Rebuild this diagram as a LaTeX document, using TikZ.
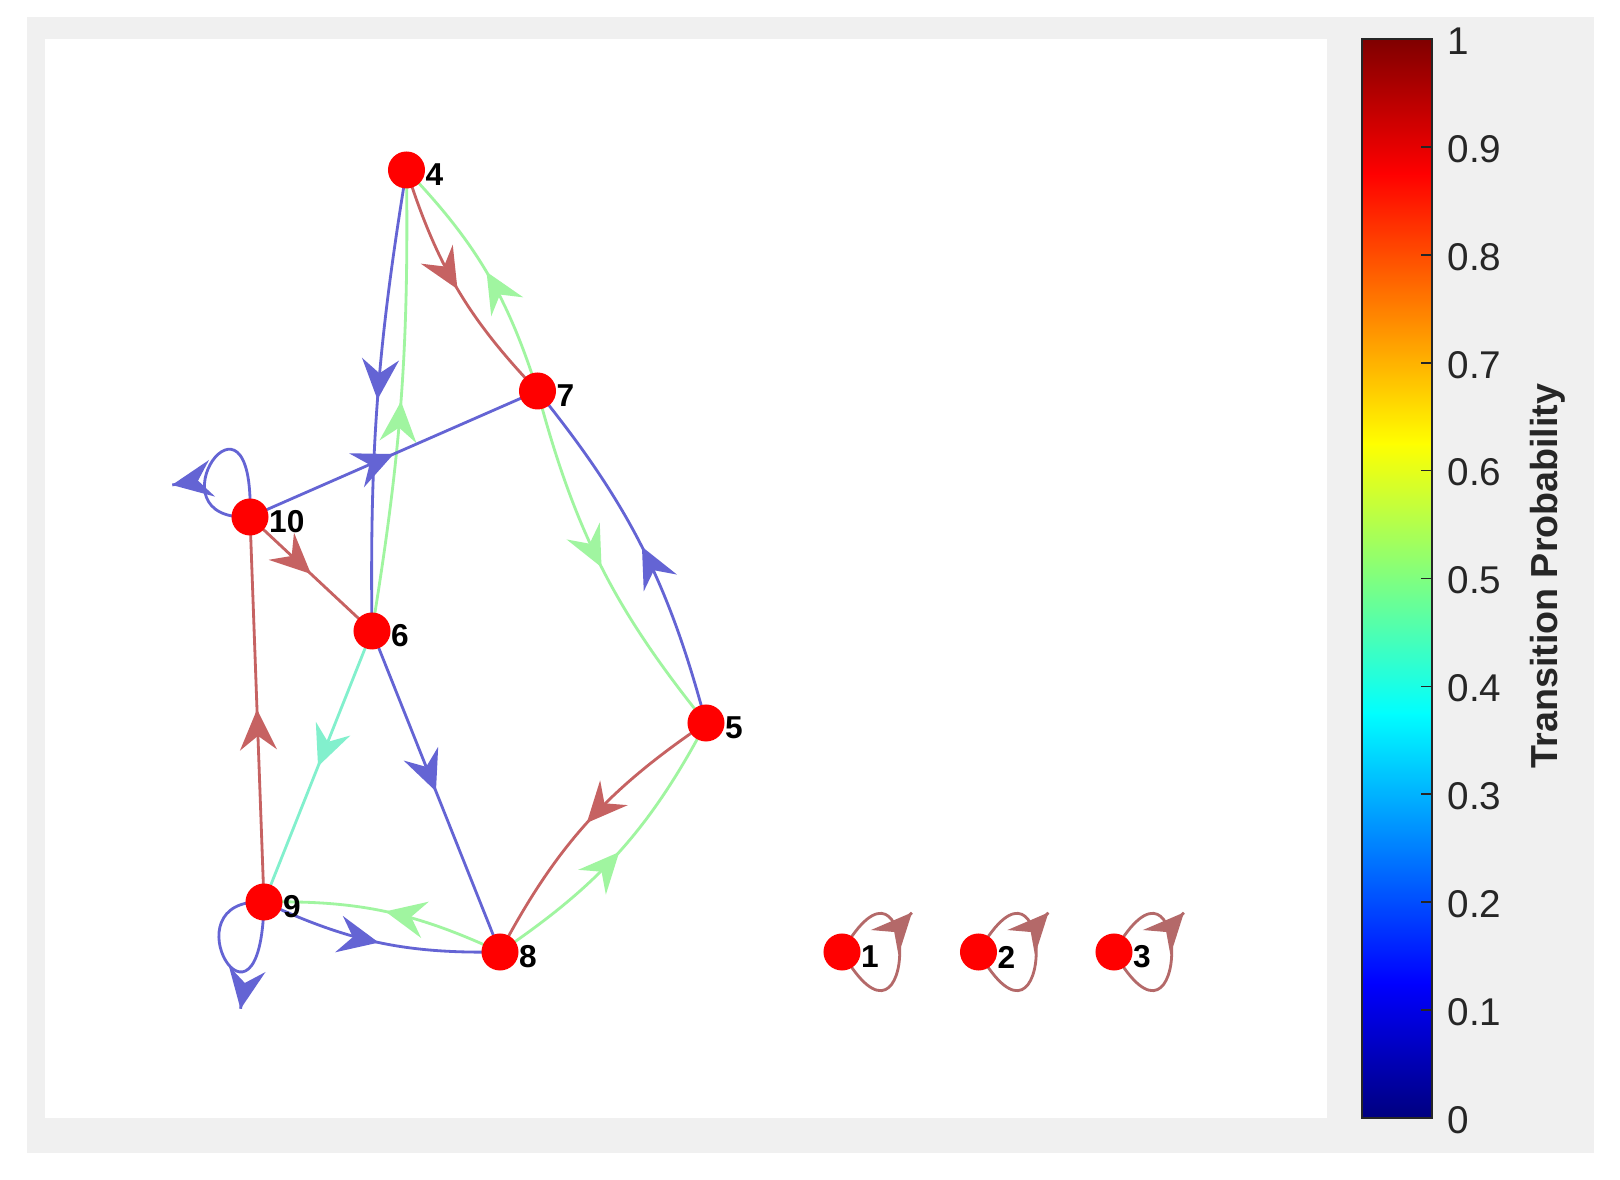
\documentclass[tikz,border=0pt]{standalone}
\usepackage{fontspec}
\setmainfont{Liberation Sans}
\usetikzlibrary{arrows.meta,decorations.markings,calc}
\pgfdeclarelayer{base}
\pgfdeclarelayer{edges}
\pgfsetlayers{base,edges,main}
\definecolor{eblue}{RGB}{100,100,212}
\definecolor{ered}{RGB}{198,98,98}
\definecolor{egreen}{RGB}{160,245,160}
\definecolor{eaqua}{RGB}{130,240,205}
\definecolor{eloop}{RGB}{180,105,105}
\definecolor{figgray}{RGB}{240,240,240}
\definecolor{axtext}{RGB}{38,38,38}
\definecolor{jetnavy}{rgb}{0,0,0.5}
\definecolor{jetblue}{rgb}{0,0,1}
\definecolor{jetcyan}{rgb}{0,1,1}
\definecolor{jetyellow}{rgb}{1,1,0}
\definecolor{jetred}{rgb}{1,0,0}
\definecolor{jetmaroon}{rgb}{0.5,0,0}
\begin{document}
\begin{tikzpicture}[x=0.01cm,y=-0.01cm,
  >={Stealth[length=11.5pt,width=10.5pt,inset=4pt]},
  vert/.style={circle,fill=red,draw=none,minimum size=0.37cm,inner sep=0pt},
  lbl/.style={font=\bfseries\fontsize{9}{10}\selectfont,inner sep=0pt,anchor=west,text=black},
  ticklbl/.style={font=\fontsize{11}{13}\selectfont,inner sep=0pt,anchor=west,text=axtext},
  conn/.style={line width=0.8pt},
  midarrow/.style={postaction={decorate},decoration={markings,mark=at position #1 with {\arrow{>}}}},
  midarrow/.default=0.5,
  cbtick/.style={axtext,line width=0.5pt}
]
\useasboundingbox (0,0) rectangle (1620,1180);
\begin{pgfonlayer}{base}
\fill[white] (0,0) rectangle (1620,1180);
\fill[figgray] (27,17) rectangle (1594,1153);
\fill[white] (45,39) rectangle (1327,1118);
\end{pgfonlayer}

% nodes
\node[vert] (v4) at (406.5,170) {};
\node[vert] (v7) at (537.5,391) {};
\node[vert] (v10) at (250,517) {};
\node[vert] (v6) at (372,631) {};
\node[vert] (v5) at (706,723) {};
\node[vert] (v9) at (264,902) {};
\node[vert] (v8) at (500,952) {};
\node[vert] (v1) at (842,952) {};
\node[vert] (v2) at (978.5,952) {};
\node[vert] (v3) at (1114,952) {};

\foreach \n in {1,...,10}{
  \node[lbl] (l\n) at ([shift={(18.5,5)}]v\n.center) {\n};
}

\begin{pgfonlayer}{edges}
\draw[conn,eblue,midarrow] (v4.center) to[bend right=5] (v6.center);
\draw[conn,egreen,midarrow] (v6.center) to[bend right=5] (v4.center);
\draw[conn,ered,midarrow] (v4.center) to[bend right=13] (v7.center);
\draw[conn,egreen,midarrow] (v7.center) to[bend right=13] (v4.center);
\draw[conn,eblue,midarrow] (v10.center) -- (v7.center);
\draw[conn,ered,midarrow] (v10.center) -- (v6.center);
\draw[conn,ered,midarrow] (v9.center) -- (v10.center);
\draw[conn,eaqua,midarrow] (v6.center) -- (v9.center);
\draw[conn,eblue,midarrow] (v6.center) -- (v8.center);
\draw[conn,egreen,midarrow] (v7.center) to[bend right=12] (v5.center);
\draw[conn,eblue,midarrow] (v5.center) to[bend right=12] (v7.center);
\draw[conn,ered,midarrow] (v5.center) to[bend right=14] (v8.center);
\draw[conn,egreen,midarrow] (v8.center) to[bend right=14] (v5.center);
\draw[conn,egreen,midarrow] (v8.center) to[bend right=13] (v9.center);
\draw[conn,eblue,midarrow] (v9.center) to[bend right=13] (v8.center);
% self loops
\draw[conn,eblue] (v10.center) .. controls +(5,-155) and +(-105,5) .. (v10.center);
\draw[conn,eblue,->] ([shift={(-77.7,-32.05)}]v10.center) -- ([shift={(-78,-32)}]v10.center);
\draw[conn,eblue] (v9.center) .. controls +(-3,160) and +(-100,-5) .. (v9.center);
\draw[conn,eblue,->] ([shift={(-23.45,106.7)}]v9.center) -- ([shift={(-23.5,107)}]v9.center);
\foreach \n in {1,2,3}{
  \draw[conn,eloop] (v\n.center) .. controls +(77,-134) and +(77,134) .. (v\n.center);
  \draw[conn,eloop,->] ([shift={(69.8,-39.28)}]v\n.center) -- ([shift={(70,-39.5)}]v\n.center);
}
\end{pgfonlayer}

% colorbar
\shade[bottom color=jetnavy, top color=jetblue] (1362,1118) rectangle (1432,982.6);
\shade[bottom color=jetblue, top color=jetcyan] (1362,983.6) rectangle (1432,712.9);
\shade[bottom color=jetcyan, top color=jetyellow] (1362,713.9) rectangle (1432,443.1);
\shade[bottom color=jetyellow, top color=jetred] (1362,444.1) rectangle (1432,173.4);
\shade[bottom color=jetred, top color=jetmaroon] (1362,174.4) rectangle (1432,39);
\foreach \v in {1,...,9}{
  \draw[cbtick] (1421,{1118-107.9*\v}) -- (1432,{1118-107.9*\v});
}
\draw[axtext,line width=0.6pt] (1362,39) rectangle (1432,1118);
\node[ticklbl] (t0) at (1447,1120) {0};
\foreach \v in {1,...,9}{
  \node[ticklbl] (t\v) at (1447,{1120-107.9*\v}) {0.\v};
}
\node[ticklbl] (t10) at (1447,41) {1};
\node[rotate=90,font=\bfseries\fontsize{10.7}{12}\selectfont,text=axtext,inner sep=0pt] (cbtitle) at (1548,576) {Transition Probability};
\end{tikzpicture}
\end{document}
